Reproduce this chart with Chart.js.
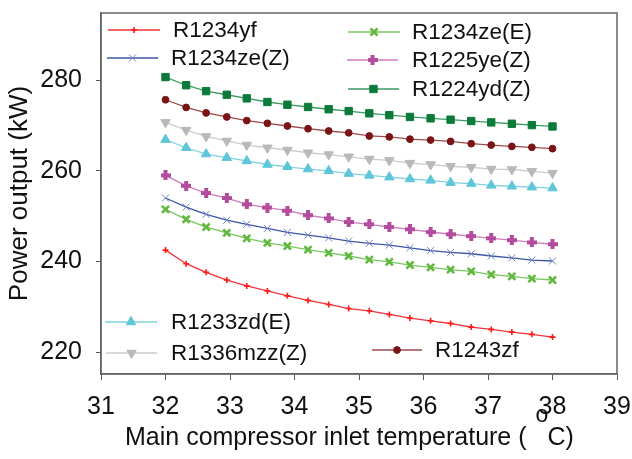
<!DOCTYPE html>
<html>
<head>
<meta charset="utf-8">
<script src="https://cdn.jsdelivr.net/npm/chart.js@4.4.0/dist/chart.umd.min.js"></script>
<style>
html, body { margin: 0; padding: 0; background: #fff; }
</style>
</head>
<body>
<canvas id="powerChart" width="632" height="459"></canvas>
<script>
// DATOS ////////////////////////////////////////////////
// Temperatura de entrada del compresor principal (20 puntos, 32 a 38 C)
const temps = [32.00, 32.32, 32.63, 32.95, 33.26, 33.58, 33.89, 34.21, 34.53, 34.84,
               35.16, 35.47, 35.79, 36.11, 36.42, 36.74, 37.05, 37.37, 37.68, 38.00];

// Potencia (kW) de cada refrigerante
const r1234yf   = [242.5, 239.5, 237.6, 235.9, 234.6, 233.5, 232.4, 231.4, 230.5, 229.6,
                   229.1, 228.3, 227.5, 226.9, 226.3, 225.5, 225.0, 224.4, 223.9, 223.3];
const r1234zeZ  = [254.0, 252.0, 250.4, 249.1, 248.2, 247.3, 246.4, 245.8, 245.2, 244.5,
                   244.0, 243.6, 243.0, 242.4, 242.0, 241.7, 241.2, 240.8, 240.3, 240.1];
const r1234zeE  = [251.5, 249.3, 247.6, 246.3, 245.1, 244.1, 243.4, 242.6, 241.9, 241.2,
                   240.4, 239.9, 239.2, 238.7, 238.2, 237.8, 237.1, 236.7, 236.2, 235.9];
const r1225yeZ  = [259.0, 256.7, 255.1, 254.0, 252.6, 251.9, 251.2, 250.2, 249.5, 248.7,
                   248.2, 247.6, 247.1, 246.5, 246.0, 245.6, 245.1, 244.7, 244.2, 243.8];
const r1224ydZ  = [280.7, 278.9, 277.6, 276.8, 276.0, 275.2, 274.6, 274.1, 273.6, 273.2,
                   272.7, 272.3, 271.9, 271.6, 271.3, 271.0, 270.7, 270.4, 270.1, 269.8];
const r1233zdE  = [266.9, 265.1, 263.7, 262.9, 262.2, 261.4, 260.9, 260.4, 260.0, 259.4,
                   259.0, 258.6, 258.2, 257.9, 257.4, 257.2, 256.8, 256.6, 256.4, 256.2];
const r1336mzzZ = [270.7, 269.0, 267.6, 266.6, 265.7, 265.1, 264.6, 264.0, 263.6, 263.1,
                   262.6, 262.3, 261.7, 261.4, 261.0, 260.8, 260.4, 260.3, 259.9, 259.5];
const r1243zf   = [275.7, 274.0, 272.8, 271.9, 271.1, 270.5, 269.9, 269.3, 268.8, 268.4,
                   267.7, 267.5, 267.0, 266.8, 266.5, 266.0, 265.7, 265.4, 265.2, 264.9];

const nombres = ['R1234yf', 'R1234ze(Z)', 'R1234ze(E)', 'R1225ye(Z)',
                 'R1224yd(Z)', 'R1233zd(E)', 'R1336mzz(Z)', 'R1243zf'];
const series  = [r1234yf, r1234zeZ, r1234zeE, r1225yeZ, r1224ydZ, r1233zdE, r1336mzzZ, r1243zf];

const xTicks = [31, 32, 33, 34, 35, 36, 37, 38, 39];
const yTicks = [220, 240, 260, 280];

const FONT = '"Liberation Sans", Arial, sans-serif';

// Marcador "+" relleno (R1225ye(Z))
function plusRelleno(color) {
    const c = document.createElement('canvas');
    c.width = 10; c.height = 10;
    const g = c.getContext('2d');
    g.fillStyle = color;
    g.fillRect(3, 0, 4, 10);
    g.fillRect(0, 3, 10, 4);
    return c;
}

// Estilos de cada serie
const estilos = [
    { line: '#f2333a', point: '#ff1a1a', style: 'cross',    radius: 3,   bw: 1.6 },
    { line: '#3f56a6', point: '#6f80c6', style: 'crossRot', radius: 5,   bw: 1   },
    { line: '#78c862', point: '#62b83e', style: 'crossRot', radius: 5,   bw: 2.6 },
    { line: '#cf7cc0', point: '#b44c9e', style: plusRelleno('#b44c9e'), radius: 5, bw: 1 },
    { line: '#3c9a62', point: '#0b7a3a', style: 'rect',     radius: 5.2, bw: 1   },
    { line: '#7fd2df', point: '#5ec6d8', style: 'triangle', radius: 5.5, bw: 1   },
    { line: '#cccccc', point: '#b9b9b9', style: 'triangle', radius: 5.5, bw: 1, rot: 180 },
    { line: '#a04a4c', point: '#7a1416', style: 'circle',   radius: 3.4, bw: 1   }
];

// Posicion de cada entrada de la leyenda (x linea inicio, fin, y, x texto)
const leyenda = [
    [108, 160, 30, 173],
    [107, 158, 58, 171],
    [348, 400, 32, 412],
    [347, 398, 60, 412],
    [348, 399, 89, 412],
    [105, 157, 322, 171],
    [106, 157, 353, 171],
    [372, 422, 350, 435]
];

const datasets = series.map((vals, i) => ({
    label: nombres[i],
    data: vals.map((v, j) => ({ x: temps[j], y: v })),
    borderColor: estilos[i].line,
    backgroundColor: estilos[i].point,
    pointBackgroundColor: estilos[i].point,
    pointBorderColor: estilos[i].point,
    pointStyle: estilos[i].style,
    pointRadius: estilos[i].radius,
    pointBorderWidth: estilos[i].bw,
    pointRotation: estilos[i].rot || 0,
    borderWidth: 1.3,
    tension: 0
}));

// Plugin: marco, leyendas y titulo del eje x con superindice
const extras = {
    id: 'extras',
    afterDraw(chart) {
        const ctx = chart.ctx;
        const a = chart.chartArea;
        ctx.save();
        ctx.strokeStyle = '#666';
        ctx.lineWidth = 1.5;
        ctx.strokeRect(a.left, a.top, a.right - a.left, a.bottom - a.top);

        // leyendas
        ctx.font = '22.5px ' + FONT;
        ctx.textBaseline = 'middle';
        ctx.textAlign = 'left';
        leyenda.forEach((p, i) => {
            const e = estilos[i];
            ctx.strokeStyle = e.line;
            ctx.lineWidth = 1.3;
            ctx.beginPath();
            ctx.moveTo(p[0], p[2]);
            ctx.lineTo(p[1], p[2]);
            ctx.stroke();
            ctx.fillStyle = e.point;
            ctx.strokeStyle = e.point;
            ctx.lineWidth = e.bw;
            Chart.helpers.drawPoint(ctx, {
                pointStyle: e.style, radius: e.radius, rotation: e.rot || 0, borderWidth: e.bw
            }, (p[0] + p[1]) / 2, p[2]);
            ctx.fillStyle = '#111';
            ctx.fillText(nombres[i], p[3], p[2] + 1);
        });

        // titulo eje x
        ctx.fillStyle = '#111';
        ctx.textBaseline = 'alphabetic';
        const base = 445;
        let x = 125;
        const t1 = 'Main compressor inlet temperature (';
        ctx.font = '25px ' + FONT;
        ctx.fillText(t1, x, base);
        x += ctx.measureText(t1).width + 9;
        ctx.font = '23px ' + FONT;
        ctx.fillText('o', x, base - 23);
        x += 12;
        ctx.font = '25px ' + FONT;
        ctx.fillText('C)', x, base);
        ctx.restore();
    }
};

const config = {
    type: 'line',
    data: { datasets: datasets },
    options: {
        responsive: false,
        animation: false,
        layout: { padding: { top: 13, right: 15, left: 0, bottom: 0 } },
        plugins: {
            legend: { display: false },
            tooltip: { enabled: false }
        },
        scales: {
            x: {
                type: 'linear',
                min: 31,
                max: 39,
                afterBuildTicks: s => { s.ticks = xTicks.map(v => ({ value: v })); },
                afterFit: s => { s.height = 85; s.paddingLeft = 0; s.paddingRight = 0; },
                grid: { drawOnChartArea: false, drawTicks: true, tickLength: 6, color: '#555' },
                border: { color: '#666', width: 1.5 },
                ticks: { color: '#111', font: { family: FONT, size: 25 }, padding: 12, maxRotation: 0 },
                title: { display: false }
            },
            y: {
                min: 215.15,
                max: 294.85,
                afterBuildTicks: s => { s.ticks = yTicks.map(v => ({ value: v })); },
                afterFit: s => { s.width = 101; s.paddingTop = 0; s.paddingBottom = 0; },
                grid: { drawOnChartArea: false, drawTicks: true, tickLength: 5, color: '#555' },
                border: { color: '#666', width: 1.5 },
                ticks: { color: '#111', font: { family: FONT, size: 25 }, padding: 14 },
                title: {
                    display: true,
                    text: 'Power output (kW)',
                    color: '#111',
                    font: { family: FONT, size: 26 },
                    padding: { top: 4, bottom: 0 }
                }
            }
        }
    },
    plugins: [extras]
};

const powerChart = new Chart(document.querySelector('#powerChart'), config);
</script>
</body>
</html>
